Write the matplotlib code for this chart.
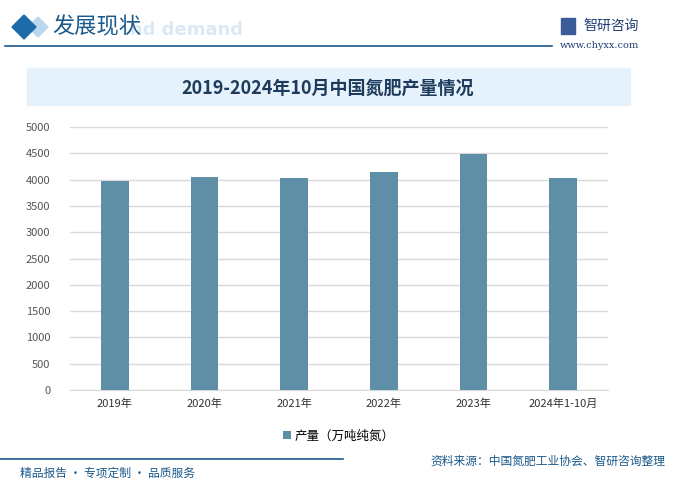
import matplotlib.pyplot as plt
from matplotlib.patches import Rectangle, Polygon

plt.rcParams['font.family'] = ['Noto Sans CJK SC', 'DejaVu Sans']

categories = ['2019年', '2020年', '2021年', '2022年', '2023年', '2024年1-10月']
output = [3969, 4043, 4025, 4136, 4488, 4025]
yticks = [0, 500, 1000, 1500, 2000, 2500, 3000, 3500, 4000, 4500, 5000]

bar_color = '#5e8fa7'
dark_blue = '#1b5a8c'

fig = plt.figure(figsize=(6.85, 4.94), dpi=100)

# header
fig.add_artist(Polygon([(12/685, 1-27/494), (24/685, 1-15/494), (36/685, 1-27/494), (24/685, 1-39/494)],
                       closed=True, color='#1c6aa8', transform=fig.transFigure))
fig.add_artist(Polygon([(28/685, 1-27/494), (38/685, 1-17/494), (48/685, 1-27/494), (38/685, 1-37/494)],
                       closed=True, color='#b9d7ee', transform=fig.transFigure, zorder=0))
fig.text(130/685, 1-30/494, 'nd demand', fontsize=13, color='#dbe9f5', fontweight='bold',
         ha='left', va='center', family='DejaVu Sans')
fig.text(52/685, 1-27/494, '发展现状', fontsize=16, color=dark_blue, ha='left', va='center')
fig.add_artist(plt.Line2D([5/685, 552/685], [1-46/494, 1-46/494], color=dark_blue, lw=1.2))
fig.text(583/685, 1-26/494, '智研咨询', fontsize=10, color='#1f3f73', ha='left', va='center')
fig.add_artist(Rectangle((561/685, 1-34/494), 14/685, 16/494, color='#3a5d9a', transform=fig.transFigure))
fig.text(560/685, 1-46/494, 'www.chyxx.com', fontsize=7, color='#1f3f73', ha='left', va='center',
         family='DejaVu Serif')

# title band
fig.add_artist(Rectangle((27/685, 1-105/494), 603/685, 37/494, color='#e6f2fb', transform=fig.transFigure, zorder=0))
fig.text(328/685, 1-88/494, '2019-2024年10月中国氮肥产量情况', fontsize=13, fontweight='bold',
         color='#1d3b5c', ha='center', va='center')

ax = fig.add_axes([70/685, 1-390/494, 538/685, 263/494])
x = range(len(categories))
ax.bar(x, output, width=0.31, color=bar_color, zorder=3, label='产量（万吨纯氮）')
ax.set_xlim(-0.5, len(categories) - 0.5)
ax.set_ylim(0, 5000)
ax.set_yticks(yticks)
ax.set_xticks(list(x))
ax.set_xticklabels(categories)
ax.yaxis.grid(True, color='#d9d9d9', lw=1, zorder=0)
for s in ['top', 'right', 'left']:
    ax.spines[s].set_visible(False)
ax.spines['bottom'].set_color('#d9d9d9')
ax.tick_params(axis='both', length=0, labelsize=8, labelcolor='#333333')
ax.tick_params(axis='y', pad=14, labelcolor='#555555')
ax.tick_params(axis='x', pad=6)
ax.set_facecolor('none')

ax.legend(loc='center', bbox_to_anchor=(0.5, -0.175), frameon=False, fontsize=9,
          handlelength=0.6, handleheight=0.6, handletextpad=0.3)

# footer
fig.add_artist(plt.Line2D([0, 343/685], [1-459/494, 1-459/494], color=dark_blue, lw=1.2))
fig.text(20/685, 1-473/494, '精品报告 · 专项定制 · 品质服务', fontsize=8.5, color=dark_blue,
         ha='left', va='center')
fig.text(665/685, 1-461/494, '资料来源：中国氮肥工业协会、智研咨询整理', fontsize=8.5, color=dark_blue,
         ha='right', va='center')

fig.savefig('out.png', dpi=100)
